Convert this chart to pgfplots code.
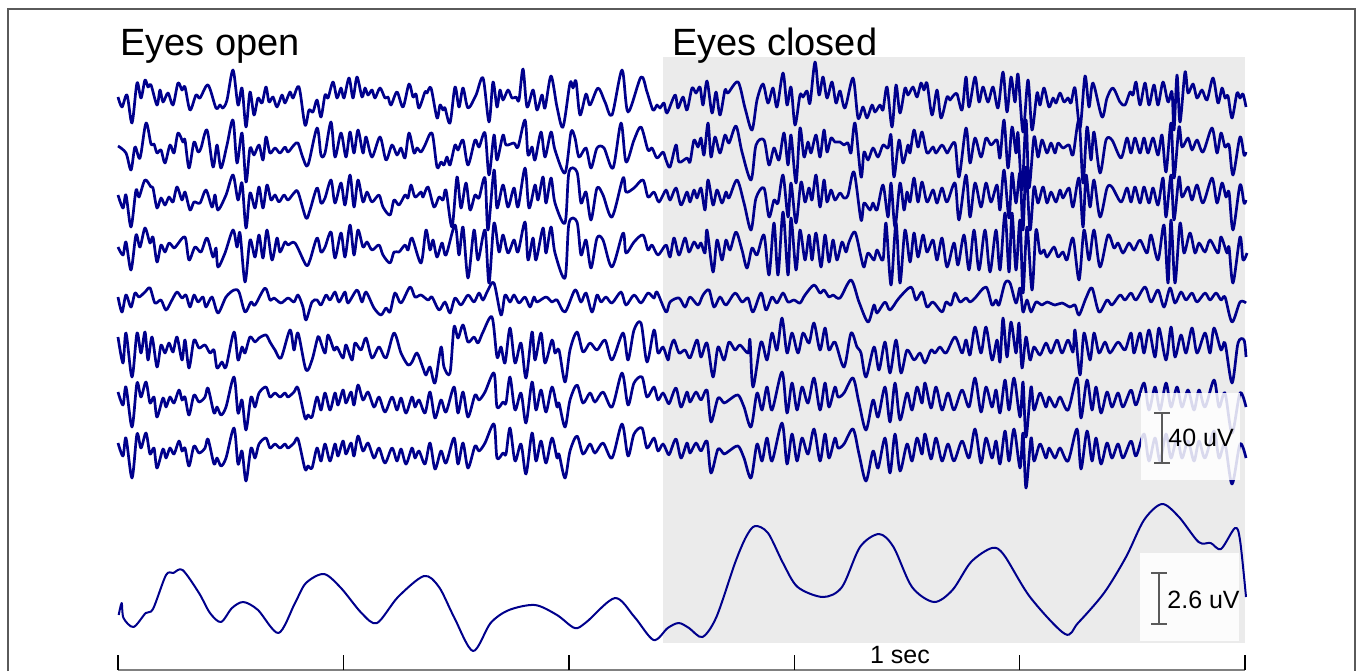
\documentclass[border=0pt]{standalone}
\usepackage{pgfplots}
\pgfplotsset{compat=1.18}
\usepackage{pgfplotstable}
\usepackage{fontspec}
\setmainfont{Liberation Sans}
\definecolor{eeg}{RGB}{0,0,140}
\definecolor{bggray}{RGB}{235,235,235}
\definecolor{framegray}{RGB}{90,90,90}
\pgfplotsset{eegline/.style={draw=eeg, solid, line width=1.35pt, smooth, mark=none, line join=round}}

\pgfplotstableread{
x y
118 97
122 107
127 95
132 123
137 83
141 98
145 80
148 87
151 85
157 105
160 90
163 102
168 93
173 105
178 83
182 90
185 87
190 110
196 95
200 98
208 85
216 108
220 105
223 108
227 100
233 70
238 105
242 88
246 127
250 92
254 115
258 98
262 103
266 87
269 102
273 97
277 107
282 95
285 103
290 92
293 98
299 87
305 125
309 110
313 112
317 100
321 117
325 95
328 98
333 82
337 98
341 88
344 98
349 78
353 98
357 77
362 97
365 88
368 95
372 90
375 98
380 88
385 98
388 97
391 105
397 92
403 107
409 84
413 97
416 94
419 108
425 92
427 93
431 88
437 118
440 105
443 110
445 108
450 123
455 87
459 107
463 88
468 108
476 95
483 78
489 122
493 82
497 107
500 90
503 100
508 90
512 98
516 97
519 100
523 69
527 107
533 90
537 110
542 95
545 108
551 76
557 107
563 127
570 83
573 88
576 81
580 115
586 94
590 105
598 88
605 102
612 115
622 70
628 112
641 77
647 92
653 110
657 105
660 108
664 103
667 113
675 95
678 108
683 97
687 110
692 88
696 93
700 87
703 105
707 81
712 113
716 92
720 115
725 90
728 93
738 82
745 108
752 130
757 100
763 84
768 103
773 88
777 107
783 73
787 105
791 87
795 125
800 95
803 97
807 91
810 103
815 62
819 95
823 77
827 98
832 82
836 103
840 91
845 108
853 78
858 118
863 107
867 118
872 105
875 112
880 105
883 110
887 87
892 127
896 85
900 113
905 88
908 95
913 87
917 97
921 83
924 90
927 83
932 115
937 90
941 118
947 97
950 100
953 96
957 94
962 110
966 77
969 107
975 77
979 102
983 87
988 102
993 87
998 108
1003 72
1007 112
1011 77
1015 102
1018 74
1023 132
1028 80
1032 130
1037 93
1040 105
1044 88
1049 107
1053 98
1056 103
1060 93
1064 102
1068 98
1071 103
1075 88
1080 128
1085 76
1089 107
1093 83
1102 117
1107 98
1113 88
1120 102
1125 105
1130 92
1133 95
1136 82
1140 105
1145 83
1149 105
1154 85
1158 105
1163 82
1168 102
1172 92
1174 130
1177 75
1180 122
1185 72
1188 93
1193 84
1197 98
1202 90
1207 100
1213 78
1218 103
1222 88
1225 98
1228 96
1232 118
1237 93
1240 98
1243 94
1246 107
}\tA

\pgfplotstableread{
x y
118.7 615
121.7 603
123.5 618
133.5 627
145.7 613
153 609
166 575
173.3 573
182.6 570
199 593
210 613
221 622
232 608
243.4 602
258 610
278.5 633
295 603
306 583
324 574
341 588
361.5 613
377 623
398 597
424 576
439 587
454 617
473 651
490.6 623
509 610
535 605
557 615
574.7 628
586.5 622
615 598
634.5 617
653.6 640
667.7 628
678.7 623
689 628
702.4 637
716.4 617
735 563
746 537
755 526
768 533
783 563
797.6 587
823 597
842 587
860 547
879 534
893.5 547
912 587
934 602
952.5 590
971 562
992 548
1004 555
1030 597
1065 634
1078 623
1104 593
1126 557
1144 520
1162 504
1179 517
1198.6 542
1210.7 543
1221 549
1235 528
1240 540
1246 597
}\tB

\begin{document}
\begin{tikzpicture}
\useasboundingbox (0,0) rectangle (679pt,335.5pt);
\begin{axis}[
  at={(0,0)}, anchor=south west,
  width=679pt, height=335.5pt, scale only axis,
  xmin=0, xmax=1358, ymin=0, ymax=671, y dir=reverse,
  hide axis, clip=false,
]
% shaded eyes-closed region
\fill[bggray] (axis cs:663,57) rectangle (axis cs:1245,643);
% channel 1
\addplot[eegline] table {\tA};
% channel 2
\addplot[eegline] coordinates {(118,146) (126,153) (131,170) (135,147) (140,158) (146,123) (151,144) (154,144) (157,153) (161,150) (165,163) (170,145) (174,153) (178,133) (183,142) (185,140) (189,168) (194,142) (198,152) (201,148) (207,130) (213,167) (217,145) (221,168) (227,145) (233,120) (237,163) (242,133) (246,182) (250,148) (254,155) (259,145) (263,160) (266,137) (270,153) (275,148) (280,153) (285,147) (288,152) (294,145) (298,143) (303,158) (308,165) (317,128) (321,155) (325,153) (331,122) (335,157) (341,133) (346,157) (350,132) (354,153) (358,130) (363,153) (366,137) (372,157) (380,137) (386,160) (392,145) (397,155) (401,148) (405,158) (409,133) (414,153) (417,148) (421,152) (425,145) (432,133) (437,167) (441,162) (444,165) (447,157) (450,165) (455,145) (458,150) (463,140) (468,165) (475,140) (479,147) (485,133) (489,175) (494,135) (497,160) (503,135) (506,145) (514,143) (518,147) (525,120) (528,155) (532,147) (535,160) (541,132) (545,157) (551,132) (555,150) (565,173) (571,132) (575,138) (579,157) (586,148) (591,168) (597,148) (604,148) (613,168) (621,123) (626,162) (634,140) (641,127) (648,150) (652,148) (657,158) (663,152) (666,160)
(670,167) (676,145) (679,162) (687,158) (690,162) (694,140) (698,147) (701,138) (704,155) (708,123) (711,157) (715,137) (720,153) (725,135) (729,143) (736,126) (742,152) (751,180) (756,145) (764,140) (769,165) (774,148) (779,160) (784,133) (788,165) (791,135) (796,183) (800,128) (804,157) (808,142) (811,153) (816,135) (820,157) (824,130) (827,152) (831,138) (835,142) (840,142) (844,145) (848,143) (851,153) (855,123) (861,177) (864,152) (868,160) (873,148) (878,157) (883,145) (888,148) (891,135) (894,177) (899,140) (903,163) (908,145) (910,153) (914,130) (918,147) (922,132) (927,153) (933,147) (936,153) (942,145) (947,153) (949,150) (955,143) (959,177) (966,128) (970,163) (975,138) (981,157) (986,138) (991,145) (997,140) (1000,158) (1004,120) (1008,168) (1012,127) (1016,153) (1018,133) (1022,190) (1026,120) (1029,188) (1034,137) (1038,157) (1042,140) (1047,153) (1051,143) (1055,153) (1058,143) (1063,148) (1069,145) (1073,155) (1079,120) (1083,183) (1087,127) (1091,160) (1094,132) (1100,173) (1106,140) (1112,140) (1121,158) (1127,138) (1131,153) (1135,138) (1140,153) (1144,138) (1148,153) (1153,138) (1158,155) (1162,135) (1166,172) (1171,123) (1174,178) (1179,127) (1182,147) (1188,138) (1192,150) (1197,140) (1203,152) (1212,128) (1217,153) (1221,133) (1225,147) (1229,145) (1233,175) (1240,137) (1244,155) (1246,152)};
% channel 3
\addplot[eegline] coordinates {(118,195) (123,208) (126,195) (131,227) (136,190) (139,197) (145,180) (151,187) (153,188) (157,208) (161,198) (165,205) (169,197) (173,202) (177,187) (182,200) (185,192) (190,210) (194,202) (200,203) (206,190) (212,207) (215,195) (218,210) (226,195) (233,175) (238,200) (242,183) (246,228) (250,193) (255,208) (259,187) (263,208) (267,185) (271,200) (275,195) (279,202) (284,195) (288,200) (294,193) (298,192) (306,218) (310,210) (317,188) (321,203) (325,198) (331,180) (335,203) (341,183) (345,205) (350,175) (354,207) (358,180) (363,202) (367,192) (372,202) (379,195) (383,207) (390,215) (394,200) (399,205) (405,195) (408,198) (411,185) (415,197) (421,192) (423,197) (428,187) (434,207) (439,197) (443,200) (446,190) (452,227) (457,177) (461,208) (466,183) (470,210) (475,195) (479,198) (485,178) (488,230) (494,170) (497,208) (503,185) (508,207) (514,188) (518,207) (525,168) (529,208) (535,185) (538,200) (543,177) (546,203) (551,178) (555,203) (565,223) (569,172) (577,172) (581,203) (586,192) (591,220) (597,188) (603,195) (612,217) (623,178) (626,192) (634,188) (643,180) (648,197) (654,192) (659,202) (666,190)
(670,200) (676,188) (681,205) (687,192) (690,202) (694,190) (697,198) (701,188) (705,210) (708,180) (713,205) (717,190) (722,203) (726,192) (729,198) (737,180) (744,203) (751,230) (756,198) (764,188) (769,217) (774,200) (778,203) (783,175) (788,217) (791,183) (796,223) (801,182) (805,202) (809,188) (812,200) (816,175) (820,207) (824,180) (827,202) (831,190) (835,200) (840,193) (844,198) (848,195) (854,172) (861,220) (864,203) (870,210) (873,203) (877,210) (883,185) (888,217) (891,183) (895,227) (900,183) (904,210) (907,192) (910,202) (914,178) (918,202) (922,182) (927,202) (933,190) (937,203) (942,188) (947,202) (955,183) (959,220) (966,175) (970,217) (975,183) (981,207) (986,183) (991,202) (997,185) (1000,210) (1004,170) (1009,218) (1012,173) (1016,203) (1020,173) (1023,230) (1026,167) (1030,230) (1034,187) (1038,203) (1043,187) (1047,203) (1051,192) (1056,202) (1060,190) (1063,198) (1069,188) (1073,207) (1079,178) (1083,227) (1086,175) (1090,207) (1094,180) (1100,217) (1107,188) (1112,187) (1121,202) (1127,188) (1131,202) (1135,187) (1140,203) (1144,187) (1149,203) (1153,188) (1158,205) (1163,178) (1166,217) (1171,175) (1174,220) (1179,177) (1182,197) (1188,187) (1192,200) (1197,185) (1203,203) (1212,178) (1217,203) (1222,183) (1226,197) (1229,192) (1233,230) (1240,185) (1244,203) (1246,200)};
% channel 4
\addplot[eegline] coordinates {(118,247) (123,255) (126,242) (131,270) (136,235) (140,247) (145,228) (150,243) (153,237) (157,262) (161,245) (165,252) (169,243) (174,248) (177,245) (185,237) (189,260) (195,247) (201,252) (207,238) (213,257) (216,248) (218,267) (225,253) (233,230) (237,247) (240,233) (245,282) (250,240) (255,257) (259,235) (263,258) (267,230) (272,260) (277,238) (280,252) (285,242) (288,245) (295,243) (306,265) (310,260) (317,238) (321,252) (325,247) (331,232) (335,258) (341,233) (345,257) (350,225) (354,255) (358,230) (363,247) (367,242) (372,250) (379,245) (383,255) (390,263) (394,252) (399,252) (405,245) (408,250) (412,238) (421,263) (426,230) (430,250) (433,240) (437,257) (442,243) (446,255) (455,225) (459,255) (463,227) (468,278) (474,230) (478,260) (485,230) (489,283) (494,223) (499,252) (503,235) (508,253) (514,240) (518,252) (525,222) (528,260) (533,238) (536,260) (543,228) (546,253) (551,227) (555,253) (565,278) (569,223) (577,222) (581,255) (586,240) (591,268) (597,238) (603,240) (612,267) (623,233) (626,253) (634,242) (643,235) (648,250) (652,245) (658,255) (666,245)
(670,257) (674,238) (679,255) (685,238) (689,252) (694,242) (698,248) (701,243) (705,253) (707,230) (713,272) (717,240) (722,260) (726,240) (730,250) (736,232) (742,250) (747,268) (752,248) (757,255) (764,235) (769,275) (774,223) (778,275) (783,212) (788,275) (791,218) (796,270) (800,230) (805,260) (809,235) (812,260) (816,233) (821,267) (825,235) (829,262) (833,240) (837,260) (842,242) (846,252) (849,242) (855,232) (861,257) (864,267) (868,253) (874,260) (877,250) (883,260) (886,223) (891,285) (896,223) (900,283) (905,230) (910,262) (914,233) (918,257) (923,235) (927,252) (933,240) (937,260) (942,238) (947,267) (954,243) (958,265) (964,235) (969,270) (974,230) (979,270) (985,230) (990,272) (996,230) (1000,270) (1005,213) (1009,272) (1012,213) (1016,270) (1020,220) (1023,293) (1027,227) (1032,290) (1036,230) (1040,253) (1044,250) (1047,257) (1054,247) (1058,257) (1063,252) (1067,260) (1073,238) (1079,280) (1084,230) (1089,260) (1094,230) (1100,267) (1108,235) (1114,248) (1118,243) (1123,253) (1129,243) (1134,250) (1140,240) (1147,253) (1151,235) (1158,260) (1164,225) (1168,283) (1171,220) (1175,283) (1180,223) (1184,253) (1190,233) (1195,253) (1199,243) (1205,252) (1210,240) (1218,253) (1221,237) (1227,253) (1229,247) (1233,283) (1240,237) (1243,260) (1247,253)};
% channel 5
\addplot[eegline] coordinates {(118,297) (122,312) (126,295) (131,307) (135,293) (139,297) (145,292) (150,288) (155,303) (161,300) (166,310) (172,300) (177,292) (182,298) (186,295) (190,307) (194,295) (198,302) (203,297) (206,307) (212,297) (218,313) (226,297) (234,290) (239,292) (245,312) (251,302) (255,305) (265,288) (270,300) (274,298) (281,303) (288,298) (294,302) (298,295) (303,307) (306,320) (312,302) (317,300) (321,305) (326,295) (330,300) (335,292) (339,302) (345,292) (348,303) (357,290) (362,302) (366,292) (374,308) (381,315) (386,308) (390,312) (395,293) (401,303) (410,287) (415,297) (421,295) (428,300) (432,297) (439,310) (445,302) (450,313) (455,298) (461,305) (468,295) (474,302) (479,293) (483,300) (488,290) (494,283) (501,315) (505,295) (510,302) (514,295) (519,303) (525,297) (530,307) (534,297) (537,302) (546,297) (552,302) (557,300) (565,312) (575,290) (581,302) (586,293) (592,312) (597,295) (601,302) (606,297) (612,303) (621,292) (626,305) (634,295) (641,303) (648,293) (654,298) (657,292) (666,312)
(670,302) (679,298) (685,307) (690,297) (698,305) (703,295) (709,290) (714,307) (720,297) (726,305) (735,293) (742,302) (748,298) (753,312) (761,293) (766,310) (772,297) (777,303) (783,293) (788,302) (794,300) (800,303) (805,295) (814,285) (820,293) (824,290) (829,297) (833,295) (840,298) (851,280) (859,302) (868,322) (874,305) (877,313) (885,302) (890,310) (899,298) (911,287) (916,300) (922,292) (927,307) (933,302) (942,312) (946,302) (951,305) (955,293) (960,302) (966,298) (970,302) (975,298) (986,287) (992,305) (996,300) (999,305) (1005,283) (1010,283) (1016,303) (1020,288) (1023,312) (1027,300) (1031,312) (1036,302) (1042,305) (1047,302) (1055,305) (1062,303) (1070,307) (1075,305) (1079,315) (1086,298) (1092,288) (1099,312) (1107,300) (1112,305) (1120,295) (1125,300) (1131,293) (1136,300) (1145,287) (1151,302) (1158,290) (1164,307) (1170,288) (1175,303) (1181,292) (1186,300) (1192,293) (1197,302) (1205,293) (1210,300) (1216,293) (1221,300) (1225,297) (1232,322) (1240,302) (1246,303)};
% channel 6
\addplot[eegline] coordinates {(118,337) (123,363) (126,333) (132,377) (137,333) (141,353) (145,332) (148,360) (152,337) (157,367) (161,345) (165,353) (169,343) (173,352) (177,337) (182,360) (185,340) (189,368) (194,340) (199,348) (205,345) (210,353) (214,350) (217,368) (222,362) (226,367) (234,332) (238,360) (242,347) (245,353) (250,337) (255,342) (259,338) (266,335) (270,342) (275,350) (281,358) (290,330) (294,350) (298,333) (306,370) (312,360) (317,340) (319,337) (325,353) (328,335) (334,350) (337,347) (343,358) (346,345) (352,360) (355,343) (361,350) (366,338) (372,358) (379,347) (386,358) (394,333) (401,353) (408,365) (412,362) (417,353) (423,368) (426,375) (430,367) (435,383) (441,347) (444,367) (450,373) (454,327) (458,338) (463,325) (468,342) (474,337) (478,343) (483,332) (492,317) (497,357) (501,347) (505,363) (510,328) (515,363) (521,343) (526,378) (532,332) (535,360) (541,333) (545,363) (552,340) (555,353) (559,350) (565,382) (570,350) (577,332) (583,352) (590,343) (597,350) (605,340) (612,360) (623,333) (628,360) (634,330) (641,323) (647,362) (654,330) (658,353) (663,347) (668,360)
(670,350) (674,340) (679,353) (685,350) (690,358) (697,340) (701,357) (707,343) (713,377) (718,347) (724,360) (729,342) (735,350) (740,345) (748,353) (750,340) (753,387) (761,342) (767,360) (772,333) (777,350) (782,318) (787,353) (792,333) (798,353) (803,333) (809,343) (814,323) (820,350) (825,328) (829,350) (835,342) (844,367) (851,333) (857,347) (861,353) (866,377) (874,347) (879,370) (885,342) (890,373) (896,340) (901,373) (907,350) (914,360) (920,353) (925,363) (931,350) (935,353) (940,347) (946,353) (955,337) (962,353) (966,340) (970,355) (975,327) (981,353) (986,327) (992,360) (997,340) (1000,362) (1003,318) (1007,357) (1011,322) (1016,353) (1019,323) (1022,368) (1026,337) (1030,360) (1034,347) (1040,355) (1046,343) (1051,353) (1057,340) (1062,353) (1068,340) (1073,352) (1075,330) (1080,375) (1084,333) (1090,360) (1094,333) (1099,353) (1105,342) (1110,353) (1118,342) (1125,350) (1131,333) (1134,353) (1140,333) (1144,353) (1149,330) (1155,357) (1159,328) (1166,360) (1171,327) (1175,357) (1181,335) (1186,353) (1192,328) (1197,353) (1205,333) (1210,353) (1214,328) (1221,350) (1225,343) (1232,383) (1238,343) (1244,340) (1246,357)};
% channel 7
\addplot[eegline] coordinates {(118,392) (123,405) (126,387) (132,427) (137,383) (141,397) (146,382) (150,403) (154,397) (157,417) (163,398) (166,407) (170,397) (174,403) (179,390) (182,400) (185,397) (189,415) (194,395) (199,402) (205,397) (208,388) (214,413) (217,407) (221,415) (226,407) (234,377) (238,413) (242,400) (246,430) (251,397) (255,407) (259,393) (266,387) (270,397) (275,393) (280,397) (285,393) (288,397) (294,392) (298,388) (305,418) (308,415) (312,417) (317,397) (321,410) (325,393) (330,410) (335,393) (338,405) (343,390) (346,403) (351,392) (354,405) (358,385) (363,400) (368,392) (374,407) (379,397) (385,412) (392,397) (397,410) (401,398) (406,413) (412,397) (415,407) (419,400) (425,413) (430,392) (435,418) (441,400) (446,412) (454,387) (458,413) (463,392) (468,417) (475,395) (479,400) (485,392) (494,373) (497,407) (503,402) (506,403) (510,377) (515,410) (521,393) (526,423) (532,382) (536,410) (541,390) (546,412) (552,387) (557,407) (559,403) (565,427) (570,400) (577,385) (583,403) (590,393) (595,402) (603,392) (612,407) (622,373) (628,405) (634,383) (642,377) (647,397) (654,387) (658,400) (663,393) (668,403)
(670,402) (676,388) (681,407) (687,392) (690,402) (696,392) (701,400) (707,390) (711,422) (718,398) (724,403) (729,400) (738,395) (744,407) (751,427) (757,393) (762,410) (767,387) (772,410) (782,372) (787,413) (792,383) (797,410) (802,387) (808,403) (814,378) (820,410) (825,383) (829,407) (835,387) (838,397) (844,393) (853,378) (859,403) (866,430) (873,400) (878,417) (885,387) (890,422) (895,383) (900,420) (907,393) (912,410) (917,387) (922,403) (925,383) (931,408) (936,387) (942,410) (948,393) (954,410) (962,390) (969,407) (975,378) (981,412) (986,387) (992,407) (996,390) (1000,413) (1005,380) (1009,410) (1014,378) (1020,417) (1023,382) (1026,437) (1031,387) (1034,410) (1040,393) (1046,407) (1049,397) (1055,407) (1060,397) (1068,410) (1077,378) (1081,418) (1087,380) (1092,410) (1096,387) (1101,413) (1107,392) (1112,407) (1118,393) (1123,407) (1131,390) (1136,405) (1144,383) (1149,410) (1155,387) (1160,410) (1166,383) (1171,407) (1177,387) (1182,407) (1188,390) (1194,410) (1199,390) (1205,407) (1214,380) (1219,407) (1225,393) (1232,433) (1240,393) (1246,407)};
% channel 8 (same shape as channel 7 in the reference, one row lower)
\addplot[eegline, y filter/.expression={y+51}] coordinates {(118,392) (123,405) (126,387) (132,427) (137,383) (141,397) (146,382) (150,403) (154,397) (157,417) (163,398) (166,407) (170,397) (174,403) (179,390) (182,400) (185,397) (189,415) (194,395) (199,402) (205,397) (208,388) (214,413) (217,407) (221,415) (226,407) (234,377) (238,413) (242,400) (246,430) (251,397) (255,407) (259,393) (266,387) (270,397) (275,393) (280,397) (285,393) (288,397) (294,392) (298,388) (305,418) (308,415) (312,417) (317,397) (321,410) (325,393) (330,410) (335,393) (338,405) (343,390) (346,403) (351,392) (354,405) (358,385) (363,400) (368,392) (374,407) (379,397) (385,412) (392,397) (397,410) (401,398) (406,413) (412,397) (415,407) (419,400) (425,413) (430,392) (435,418) (441,400) (446,412) (454,387) (458,413) (463,392) (468,417) (475,395) (479,400) (485,392) (494,373) (497,407) (503,402) (506,403) (510,377) (515,410) (521,393) (526,423) (532,382) (536,410) (541,390) (546,412) (552,387) (557,407) (559,403) (565,427) (570,400) (577,385) (583,403) (590,393) (595,402) (603,392) (612,407) (622,373) (628,405) (634,383) (642,377) (647,397) (654,387) (658,400) (663,393) (668,403)
(670,402) (676,388) (681,407) (687,392) (690,402) (696,392) (701,400) (707,390) (711,422) (718,398) (724,403) (729,400) (738,395) (744,407) (751,427) (757,393) (762,410) (767,387) (772,410) (782,372) (787,413) (792,383) (797,410) (802,387) (808,403) (814,378) (820,410) (825,383) (829,407) (835,387) (838,397) (844,393) (853,378) (859,403) (866,430) (873,400) (878,417) (885,387) (890,422) (895,383) (900,420) (907,393) (912,410) (917,387) (922,403) (925,383) (931,408) (936,387) (942,410) (948,393) (954,410) (962,390) (969,407) (975,378) (981,412) (986,387) (992,407) (996,390) (1000,413) (1005,380) (1009,410) (1014,378) (1020,417) (1023,382) (1026,437) (1031,387) (1034,410) (1040,393) (1046,407) (1049,397) (1055,407) (1060,397) (1068,410) (1077,378) (1081,418) (1087,380) (1092,410) (1096,387) (1101,413) (1107,392) (1112,407) (1118,393) (1123,407) (1131,390) (1136,405) (1144,383) (1149,410) (1155,387) (1160,410) (1166,383) (1171,407) (1177,387) (1182,407) (1188,390) (1194,410) (1199,390) (1205,407) (1214,380) (1219,407) (1225,393) (1232,433) (1240,393) (1246,407)};
% bottom averaged trace
\addplot[eegline, line width=1pt] table {\tB};
% scale boxes
\fill[white, opacity=0.85] (axis cs:1141,393) rectangle (axis cs:1240,480);
\fill[white, opacity=0.85] (axis cs:1140,553) rectangle (axis cs:1239,641);
\draw[framegray, line width=0.6pt] (axis cs:1162,413) -- (axis cs:1162,463)
   (axis cs:1154,413) -- (axis cs:1170,413) (axis cs:1154,463) -- (axis cs:1170,463);
\node[anchor=west, font=\fontsize{12.5}{14}\selectfont, inner sep=0pt] at (axis cs:1168,438) {40 uV};
\draw[framegray, line width=0.6pt] (axis cs:1159,573) -- (axis cs:1159,624)
   (axis cs:1151,573) -- (axis cs:1167,573) (axis cs:1151,624) -- (axis cs:1167,624);
\node[anchor=west, font=\fontsize{12.5}{14}\selectfont, inner sep=0pt] at (axis cs:1167,600) {2.6 uV};
% titles
\node[anchor=base west, font=\fontsize{19}{22}\selectfont, inner sep=0pt] at (axis cs:120,55) {Eyes open};
\node[anchor=base west, font=\fontsize{19}{22}\selectfont, inner sep=0pt] at (axis cs:672,55) {Eyes closed};
% time axis
\draw[gray, line width=0.6pt] (axis cs:118,670) -- (axis cs:1245,670);
\draw[black, line width=0.7pt] (axis cs:118,670) -- (axis cs:118,655);
\draw[black, line width=0.7pt] (axis cs:343.4,670) -- (axis cs:343.4,655);
\draw[black, line width=0.7pt] (axis cs:568.8,670) -- (axis cs:568.8,655);
\draw[black, line width=0.7pt] (axis cs:794.2,670) -- (axis cs:794.2,655);
\draw[black, line width=0.7pt] (axis cs:1019.6,670) -- (axis cs:1019.6,655);
\draw[black, line width=0.7pt] (axis cs:1245,670) -- (axis cs:1245,655);
\node[anchor=center, font=\fontsize{12.5}{14}\selectfont, inner sep=0pt] at (axis cs:900,655) {1 sec};
% frame
\draw[framegray, line width=0.75pt] (axis cs:8,671) -- (axis cs:8,9) -- (axis cs:1355,9) -- (axis cs:1355,671);
\end{axis}
\end{tikzpicture}
\end{document}
